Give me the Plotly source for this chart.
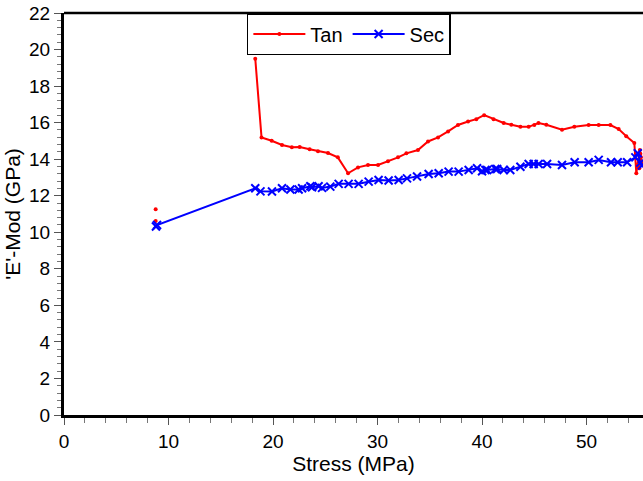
import plotly.graph_objects as go

# Tan series (None breaks the line between isolated points)
tan_x = [8.77, None, 8.77, None,
         18.3, 18.9, 19.87, 20.86, 21.8, 22.55, 23.5, 24.3, 25.26, 26.2, 27.18,
         28.13, 29.09, 30.05, 31.0, 31.96, 32.76, 33.87, 34.83, 35.79, 36.75,
         37.7, 38.66, 39.45, 40.2, 41.1, 42.07, 42.8, 43.67, 44.46, 45.0, 45.4,
         46.15, 47.65, 48.83, 50.2, 51.16, 52.28, 53.07, 53.8, 54.57, 54.76,
         54.85, 55.1, 55.2, 55.05, 55.25, 55.15]
tan_y = [11.26, None, 10.62, None,
         19.5, 15.19, 15.01, 14.78, 14.65, 14.67, 14.54, 14.43, 14.34, 14.1, 13.23,
         13.55, 13.68, 13.68, 13.88, 14.1, 14.32, 14.5, 14.97, 15.19, 15.52,
         15.87, 16.06, 16.19, 16.41, 16.19, 15.98, 15.88, 15.77, 15.77, 15.87, 15.98,
         15.88, 15.61, 15.77, 15.87, 15.87, 15.87, 15.65, 15.25, 14.89, 13.23,
         13.6, 14.5, 14.1, 13.5, 13.8, 14.3]

# Sec series
sec_x = [8.8, 8.9, 18.3, 18.8, 19.9, 20.86, 21.66, 22.45, 22.78, 23.57, 23.73,
         24.36, 24.69, 25.48, 26.28, 27.23, 28.19, 29.15, 30.1, 31.06, 32.02,
         32.82, 33.78, 34.89, 35.85, 36.8, 37.76, 38.72, 39.52, 40.0, 40.32,
         40.48, 41.27, 41.44, 42.07, 42.7, 43.67, 44.46, 44.94, 45.42, 46.22,
         47.65, 48.86, 50.2, 51.16, 52.34, 52.98, 53.88, 54.67, 54.9, 55.15, 55.3]
sec_y = [10.32, 10.4, 12.41, 12.24, 12.23, 12.41, 12.34, 12.34, 12.41, 12.52, 12.46,
         12.52, 12.43, 12.5, 12.65, 12.65, 12.65, 12.77, 12.86, 12.83, 12.86,
         12.95, 13.05, 13.19, 13.23, 13.32, 13.32, 13.41, 13.5, 13.34, 13.41,
         13.41, 13.46, 13.46, 13.41, 13.41, 13.59, 13.74, 13.74, 13.74, 13.74,
         13.68, 13.83, 13.83, 13.96, 13.83, 13.83, 13.83, 14.1, 14.32, 13.81, 13.65]

x_title = "Stress (MPa)"
y_title = "'E'-Mod (GPa)"

FONT = "Liberation Sans, Arial, sans-serif"

fig = go.Figure()
fig.add_trace(go.Scatter(
    x=tan_x, y=tan_y, name="Tan", mode="lines+markers",
    line=dict(color="#ff0000", width=2),
    marker=dict(color="#ff0000", size=4, symbol="circle"),
    connectgaps=False,
))
fig.add_trace(go.Scatter(
    x=sec_x, y=sec_y, name="Sec", mode="lines+markers",
    line=dict(color="#0000ff", width=2),
    marker=dict(color="#0000ff", size=8, symbol="x-thin",
                line=dict(color="#0000ff", width=2)),
))

fig.update_layout(
    width=643, height=481,
    margin=dict(l=64, r=0, t=13, b=66),
    paper_bgcolor="white", plot_bgcolor="white",
    font=dict(family=FONT, size=19, color="black"),
    showlegend=True,
    legend=dict(
        orientation="h", x=0.492, xanchor="center", y=1.0, yanchor="top",
        bgcolor="white", bordercolor="black", borderwidth=1.5,
        font=dict(family=FONT, size=20, color="black"),
        itemwidth=52, tracegroupgap=0,
    ),
    xaxis=dict(
        range=[0, 55.4], showgrid=False, zeroline=False,
        showline=True, linecolor="black", linewidth=3,
        ticks="outside", ticklen=7, tickwidth=1, tickcolor="#555555",
        dtick=10, tick0=0,
        minor=dict(ticks="outside", ticklen=5, tickwidth=1, tickcolor="#777777", dtick=2, showgrid=False),
        title=dict(text=x_title, font=dict(family=FONT, size=21), standoff=5),
        tickfont=dict(family=FONT, size=19),
    ),
    yaxis=dict(
        range=[0, 22], showgrid=False, zeroline=False,
        showline=True, linecolor="black", linewidth=3,
        ticks="outside", ticklen=7, tickwidth=1, tickcolor="#555555",
        dtick=2, tick0=0,
        minor=dict(ticks="outside", ticklen=4, tickwidth=1, tickcolor="#777777", dtick=0.4, showgrid=False),
        title=dict(text=y_title, font=dict(family=FONT, size=21), standoff=3),
        tickfont=dict(family=FONT, size=19),
    ),
    shapes=[dict(type="line", xref="paper", yref="paper", x0=0, x1=1, y0=1, y1=1,
                 line=dict(color="black", width=2.5), layer="above")],
)

fig.write_html("out.html")
